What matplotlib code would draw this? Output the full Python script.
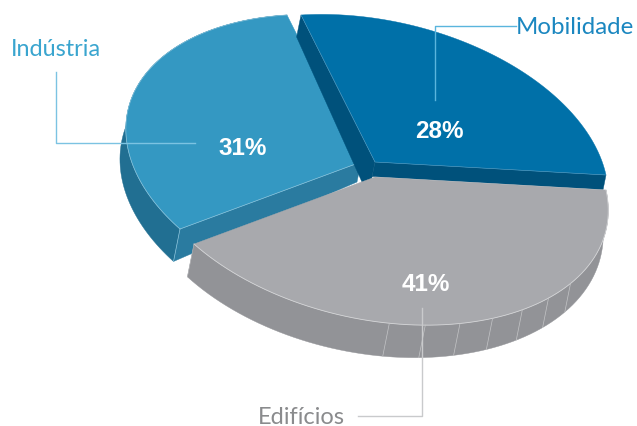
import numpy as np
import matplotlib
matplotlib.use("Agg")
import matplotlib.pyplot as plt
from matplotlib.patches import Polygon

# shares of the pie
labels = ["Mobilidade", "Edifícios", "Indústria"]
shares = [28, 41, 31]
pct_labels = ["28%", "41%", "31%"]

top_colors = ["#0070a8", "#a8a9ad", "#3498c2"]
side_colors = ["#00517b", "#929397", "#216f92"]
wall_colors = ["#00517b", "#929397", "#2a7ba0"]

# image offset of each exploded slice
offsets = [(0, 0), (0, 15), (-14, 0)]
start_angle = -85.0

plt.rcParams["font.family"] = ["Lato", "DejaVu Sans"]
fig = plt.figure(figsize=(6.37, 4.26), dpi=100)
ax = fig.add_axes([0, 0, 1, 1])
ax.set_xlim(0, 637)
ax.set_ylim(426, 0)
ax.axis("off")

# slice edges in degrees, from the shares
edges = start_angle + np.cumsum([0] + shares) * 3.6


def rim_unit(t):
    t = np.radians(t)
    return np.cos(t), np.sin(t)


def fit_camera(src, dst):
    # plain 4 point homography
    A, b = [], []
    for (X, Y), (x, y) in zip(src, dst):
        A.append([X, Y, 1, 0, 0, 0, -x * X, -x * Y])
        A.append([0, 0, 0, X, Y, 1, -y * X, -y * Y])
        b += [x, y]
    return np.append(np.linalg.solve(np.array(A), np.array(b)), 1).reshape(3, 3)


# camera calibration: pie centre and the three slice corners in the image
H = fit_camera(
    [(0, 0), rim_unit(edges[0]), rim_unit(edges[1]), rim_unit(edges[2])],
    [(374.5, 161.3), (301, 15), (606, 175), (194, 229)],
)
centre = np.array([[375.0, 162.0]])


def project(X, Y):
    p = H @ np.array([X, Y, np.ones_like(X)])
    return np.column_stack([p[0] / p[2], p[1] / p[2]])


def arc(t0, t1, n=80):
    t = np.linspace(t0, t1, n)
    X, Y = rim_unit(t)
    return project(X, Y)


def drop(pts, depth=None):
    # extrusion gets longer towards the viewer
    pts = np.asarray(pts, dtype=float)
    d = 26.1 - 0.0157 * pts[:, 0] + 0.0402 * pts[:, 1] if depth is None else np.full(len(pts), depth)
    return pts + np.column_stack([-0.2 * d, d])


def poly(pts, color, z):
    ax.add_patch(Polygon(pts, closed=True, fc=color, ec=color, lw=0.3, zorder=z))


# Industria (back left)
off = np.array(offsets[2])
rim = arc(edges[2], edges[3]) + off
apex = centre + off
poly(np.vstack([rim, drop(rim)[::-1]]), side_colors[2], 1)
wall = np.vstack([rim[:1], apex])
poly(np.vstack([wall, drop(wall, 20)[::-1][:1], drop(rim[:1])]), wall_colors[2], 2)
poly(np.vstack([apex, rim]), top_colors[2], 3)
ax.plot(rim[:, 0], rim[:, 1], color="#8cc4dc", lw=0.5, zorder=4)
ax.plot(*np.vstack([rim[:1], apex]).T, color="#8cc4dc", lw=0.5, zorder=4)
ax.plot(*np.vstack([rim[:1], drop(rim[:1])]).T, color="#8cc4dc", lw=0.5, zorder=4)

# Mobilidade
rim = arc(edges[0], edges[1])
apex = centre
left_wall = np.vstack([rim[:1], apex])
poly(np.vstack([left_wall, drop(apex, 20), apex + (-13, 20), drop(rim[:1], 22)]), side_colors[0], 5)
right_wall = np.vstack([apex, rim[-1:]])
poly(np.vstack([right_wall, drop(right_wall, 14.5)[::-1]]), side_colors[0], 6)
poly(np.vstack([apex, rim]), top_colors[0], 7)
ax.plot(*np.vstack([rim[:1], apex, rim[-1:]]).T, color="#5a9cc0", lw=0.4, zorder=8)

# Edificios
off = np.array(offsets[1])
rim = arc(edges[1], edges[2]) + off
apex = centre + off
poly(np.vstack([rim, drop(rim)[::-1]]), side_colors[1], 9)
poly(np.vstack([apex, rim]), top_colors[1], 10)
ax.plot(rim[:, 0], rim[:, 1], color="#d4d5d7", lw=0.6, zorder=11)
ax.plot(*np.vstack([rim[-1:], drop(rim[-1:])]).T, color="#b5b6b8", lw=0.4, zorder=11)
facets = arc(edges[1] + 41, edges[1] + 94, 7) + off
for p, q in zip(facets, drop(facets)):
    ax.plot([p[0], q[0]], [p[1], q[1]], color="#c4c5c7", lw=0.5, zorder=11)

# leader lines
ax.plot([435, 435, 516], [100, 25.5, 25.5], color="#5ab5dd", lw=1, zorder=12)
ax.plot([55.5, 55.5, 195], [72, 142.5, 142.5], color="#7cc3e2", lw=1, zorder=12)
ax.plot([358, 421.5, 421.5], [415.5, 415.5, 308], color="#c9cacc", lw=1, zorder=12)

ax.text(516, 27, labels[0], color="#1b87c0", fontsize=17.3, ha="left", va="center", zorder=13)
ax.text(11, 49, labels[2], color="#3aa5cf", fontsize=16.9, ha="left", va="center", zorder=13)
ax.text(258, 417, labels[1], color="#8a8b8d", fontsize=17, ha="left", va="center", zorder=13)

pct_font = ["Liberation Sans", "DejaVu Sans"]
ax.text(439.5, 131.5, pct_labels[0], color="white", fontsize=17.5, fontweight="bold", family=pct_font, ha="center", va="center", zorder=13)
ax.text(425.5, 284.5, pct_labels[1], color="white", fontsize=17.5, fontweight="bold", family=pct_font, ha="center", va="center", zorder=13)
ax.text(242.5, 148.5, pct_labels[2], color="white", fontsize=17.5, fontweight="bold", family=pct_font, ha="center", va="center", zorder=13)

fig.savefig("out.png", dpi=100)
